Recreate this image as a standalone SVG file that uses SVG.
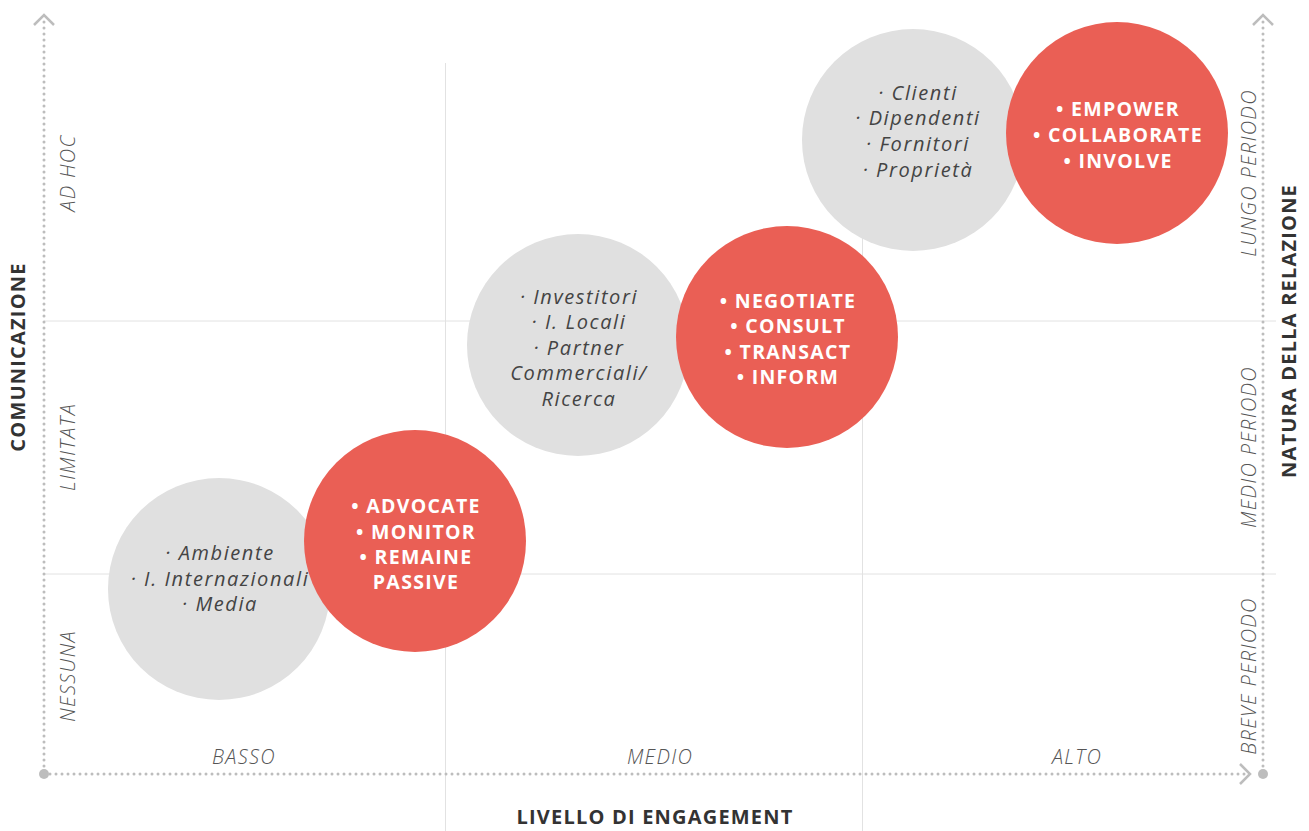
<svg xmlns="http://www.w3.org/2000/svg" width="1309" height="831" viewBox="0 0 1309 831">
<style>
.grid{stroke:#e2e2e2;stroke-width:1;fill:none}
.axis{stroke:#bdbdbd;stroke-width:3;stroke-dasharray:0 6;stroke-linecap:round;fill:none}
.chev{stroke:#bdbdbd;stroke-width:2.5;fill:none}
.dot{fill:#bdbdbd}
.gc{fill:#e0e0e0}
.rc{fill:#ea5f55}
.gt{font-family:"Open Sans","Liberation Sans",sans-serif;font-style:italic;font-size:20px;letter-spacing:1.6px;fill:#444;text-anchor:middle}
.rt{font-family:"Open Sans","Liberation Sans",sans-serif;font-weight:bold;font-size:19.5px;letter-spacing:1.3px;fill:#fff;text-anchor:middle}
.lv{font-family:"Open Sans","Liberation Sans",sans-serif;font-style:italic;font-weight:300;font-size:20px;letter-spacing:1.3px;fill:#555;text-anchor:middle}
.ttl{font-family:"Open Sans","Liberation Sans",sans-serif;font-weight:bold;font-size:20px;letter-spacing:1.2px;fill:#333;text-anchor:middle}
</style>
<rect width="1309" height="831" fill="#fff"/>
<g id="grid">
<line class="grid" x1="44" y1="321" x2="1276" y2="321"/>
<line class="grid" x1="44" y1="574" x2="1276" y2="574"/>
<line class="grid" x1="445.5" y1="63" x2="445.5" y2="831"/>
<line class="grid" x1="862.5" y1="63" x2="862.5" y2="831"/>
</g>
<g id="connectors">
<line class="axis" x1="44" y1="22" x2="44" y2="774"/>
<polyline class="chev" points="34,25 44,15 54,25"/>
<line class="axis" x1="1263" y1="22" x2="1263" y2="774"/>
<polyline class="chev" points="1253,25 1263,15 1273,25"/>
<line class="axis" x1="44" y1="774" x2="1248" y2="774"/>
<polyline class="chev" points="1240,764 1250,774 1240,784"/>
<circle class="dot" cx="44" cy="774" r="5"/>
<circle class="dot" cx="1263" cy="774" r="5"/>
</g>
<g id="node-gray1">
<circle class="gc" cx="219" cy="589" r="111"/>
<text class="gt"><tspan x="220" y="560">· Ambiente</tspan><tspan x="220" y="586">· I. Internazionali</tspan><tspan x="220" y="611">· Media</tspan></text>
</g>
<g id="node-red1">
<circle class="rc" cx="415" cy="541" r="111"/>
<text class="rt"><tspan x="416" y="513">• ADVOCATE</tspan><tspan x="416" y="539">• MONITOR</tspan><tspan x="416" y="564">• REMAINE</tspan><tspan x="416" y="589">PASSIVE</tspan></text>
</g>
<g id="node-gray2">
<circle class="gc" cx="578" cy="345" r="111"/>
<text class="gt"><tspan x="579" y="304">· Investitori</tspan><tspan x="579" y="329">· I. Locali</tspan><tspan x="579" y="355">· Partner</tspan><tspan x="579" y="380">Commerciali/</tspan><tspan x="579" y="406">Ricerca</tspan></text>
</g>
<g id="node-red2">
<circle class="rc" cx="787" cy="337" r="111"/>
<text class="rt"><tspan x="788" y="308">• NEGOTIATE</tspan><tspan x="788" y="333">• CONSULT</tspan><tspan x="788" y="359">• TRANSACT</tspan><tspan x="788" y="384">• INFORM</tspan></text>
</g>
<g id="node-gray3">
<circle class="gc" cx="913" cy="140" r="111"/>
<text class="gt"><tspan x="918" y="100">· Clienti</tspan><tspan x="918" y="125">· Dipendenti</tspan><tspan x="918" y="151">· Fornitori</tspan><tspan x="918" y="177">· Proprietà</tspan></text>
</g>
<g id="node-red3">
<circle class="rc" cx="1117" cy="133" r="111"/>
<text class="rt"><tspan x="1118" y="116">• EMPOWER</tspan><tspan x="1118" y="142">• COLLABORATE</tspan><tspan x="1118" y="168">• INVOLVE</tspan></text>
</g>
<g id="labels">
<text class="lv" x="244" y="764">BASSO</text>
<text class="lv" x="660" y="764">MEDIO</text>
<text class="lv" x="1077" y="764">ALTO</text>
<text class="ttl" x="655" y="824">LIVELLO DI ENGAGEMENT</text>
<text class="lv" transform="translate(75,173) rotate(-90)">AD HOC</text>
<text class="lv" transform="translate(75,447) rotate(-90)">LIMITATA</text>
<text class="lv" transform="translate(75,676) rotate(-90)">NESSUNA</text>
<text class="ttl" transform="translate(25,357) rotate(-90)">COMUNICAZIONE</text>
<text class="lv" transform="translate(1256,173) rotate(-90)">LUNGO PERIODO</text>
<text class="lv" transform="translate(1256,447) rotate(-90)">MEDIO PERIODO</text>
<text class="lv" transform="translate(1256,676) rotate(-90)">BREVE PERIODO</text>
<text class="ttl" transform="translate(1296,331) rotate(-90)">NATURA DELLA RELAZIONE</text>
</g>
</svg>
